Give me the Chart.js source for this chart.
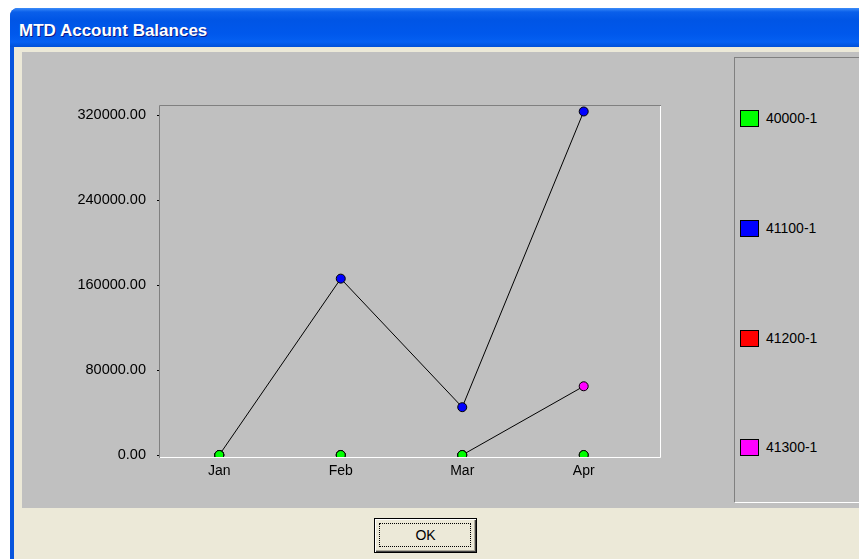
<!DOCTYPE html>
<html>
<head>
<meta charset="utf-8">
<title>MTD Account Balances</title>
<script src="https://cdn.jsdelivr.net/npm/chart.js@4"></script>
<style>
    body { margin: 0; background: #fff; width: 859px; height: 559px; overflow: hidden; position: relative; font-family: "Liberation Sans", Arial, sans-serif; }
    .win-frame { position: absolute; left: 10px; top: 8px; width: 900px; height: 600px; background: #0855dd; border-radius: 8px 8px 0 0; }
    .title-bar { position: absolute; left: 10px; top: 8px; width: 900px; height: 39px; border-radius: 8px 8px 0 0;
        background: linear-gradient(#3c8cf8 0px, #0a5fea 4px, #0055e5 12px, #0058ec 26px, #0560f2 34px, #0050d8 39px); }
    .title-text { position: absolute; left: 19px; top: 21px; color: #fff; font: bold 17px "Liberation Sans", Arial, sans-serif; text-shadow: 1px 1px 0 #0a1a8a; }
    .client { position: absolute; left: 14px; top: 47px; width: 900px; height: 600px; background: #ece9d8; }
    .panel { position: absolute; left: 22px; top: 52px; width: 900px; height: 456px; background: #c0c0c0; }
    #chart { position: absolute; left: 22px; top: 52px; }
    .legend-box { position: absolute; left: 734px; top: 57px; width: 200px; height: 444px; border-left: 1px solid #808080; border-top: 1px solid #808080; border-bottom: 1px solid #fff; }
    .legend-item { position: absolute; left: 740px; height: 17px; font-size: 14px; color: #000; line-height: 17px; }
    .legend-item .swatch { position: absolute; left: 0; top: 0; width: 17px; height: 15px; border: 1px solid #000; }
    .legend-item .label { position: absolute; left: 26px; top: 0; white-space: nowrap; }
    .ok-btn { position: absolute; left: 374px; top: 518px; width: 101px; height: 33px; border: 1px solid #000; background: #ece9d8;
        box-shadow: inset 1px 1px 0 #fff, inset -1px -1px 0 #404040, inset -2px -2px 0 #aca899; }
    .ok-btn .focus { position: absolute; left: 4px; top: 4px; right: 5px; bottom: 5px; border: 1px dotted #000; }
    .ok-btn .txt { position: absolute; left: 0; right: 0; top: 8px; text-align: center; font-size: 14px; color: #000; }
</style>
</head>
<body>
<div class="win-frame"></div>
<div class="title-bar"></div>
<div class="title-text">MTD Account Balances</div>
<div class="client"></div>
<div class="panel"></div>
<canvas id="chart" width="703" height="456"></canvas>
<div class="legend-box"></div>
<div id="legend"></div>
<div class="ok-btn"><div class="focus"></div><div class="txt">OK</div></div>

<script>
// months and account balances
const months = ['Jan', 'Feb', 'Mar', 'Apr'];
const accounts = ['40000-1', '41100-1', '41200-1', '41300-1'];
const accountColors = ['#00ff00', '#0000ff', '#ff0000', '#ff00ff'];
const bal40000 = [0, 0, 0, 0];
const bal41100 = [0, 166000, 45000, 323300];
const bal41200 = [0, 0, 0, 0];
const bal41300 = [0, 0, 0, 64700];
const yTicks = [0, 80000, 160000, 240000, 320000];

const seriesValues = [bal40000, bal41100, bal41200, bal41300];

// legend on the right panel, spaced down the box
const legendEl = document.getElementById('legend');
const legendTops = [110, 220, 330, 439];
accounts.forEach((name, i) => {
    const item = document.createElement('div');
    item.className = 'legend-item';
    item.style.top = legendTops[i] + 'px';
    item.innerHTML = `<div class="swatch" style="background:${accountColors[i]}"></div><div class="label">${name}</div>`;
    legendEl.appendChild(item);
});

// sunken 3d frame around the plot
const plotFrame = {
    id: 'plotFrame',
    afterDatasetsDraw(chart) {
        const { ctx, chartArea: a } = chart;
        ctx.save();
        ctx.lineWidth = 1;
        ctx.strokeStyle = '#808080';
        ctx.beginPath();
        ctx.moveTo(a.left - 0.5, a.bottom + 1);
        ctx.lineTo(a.left - 0.5, a.top - 0.5);
        ctx.lineTo(a.right + 1, a.top - 0.5);
        ctx.stroke();
        ctx.strokeStyle = '#ffffff';
        ctx.beginPath();
        ctx.moveTo(a.left, a.bottom + 0.5);
        ctx.lineTo(a.right + 0.5, a.bottom + 0.5);
        ctx.lineTo(a.right + 0.5, a.top);
        ctx.stroke();
        ctx.restore();
    }
};

// hide segments that lie flat on the zero line
const flatZero = c => (c.p0.parsed.y === 0 && c.p1.parsed.y === 0) ? 'rgba(0,0,0,0)' : '#000';

const datasets = accounts.map((name, i) => ({
    label: name,
    data: seriesValues[i].map((v, k) => ({ x: k, y: v })),
    borderColor: '#000',
    borderWidth: 1,
    pointRadius: 4.5,
    pointBorderWidth: 1,
    pointBorderColor: '#000',
    pointBackgroundColor: accountColors[i],
    backgroundColor: accountColors[i],
    segment: { borderColor: flatZero },
    tension: 0,
    clip: 0
}));

new Chart(document.getElementById('chart').getContext('2d'), {
    type: 'line',
    data: { datasets: datasets },
    options: {
        responsive: false,
        animation: false,
        devicePixelRatio: 1,
        layout: { padding: { top: 54, right: 65, left: 0, bottom: 0 } },
        plugins: {
            legend: { display: false },
            tooltip: { enabled: false }
        },
        scales: {
            x: {
                type: 'linear',
                min: -0.488,
                max: 3.628,
                afterBuildTicks: s => { s.ticks = months.map((m, k) => ({ value: k })); },
                afterFit: s => { s.height = 51; },
                grid: { display: false, drawTicks: false },
                border: { display: false },
                ticks: {
                    autoSkip: false,
                    maxRotation: 0,
                    padding: 6,
                    color: '#000',
                    font: { family: 'Liberation Sans', size: 14 },
                    callback: v => months[v]
                }
            },
            y: {
                min: -1882,
                max: 328471,
                afterBuildTicks: s => { s.ticks = yTicks.map(v => ({ value: v })); },
                afterFit: s => { s.width = 138; },
                grid: { drawOnChartArea: false, drawTicks: true, tickLength: 3, color: '#000' },
                border: { display: false },
                ticks: {
                    padding: 11,
                    color: '#000',
                    font: { family: 'Liberation Sans', size: 14.5 },
                    callback: v => v.toFixed(2)
                }
            }
        }
    },
    plugins: [plotFrame]
});
</script>
</body>
</html>
